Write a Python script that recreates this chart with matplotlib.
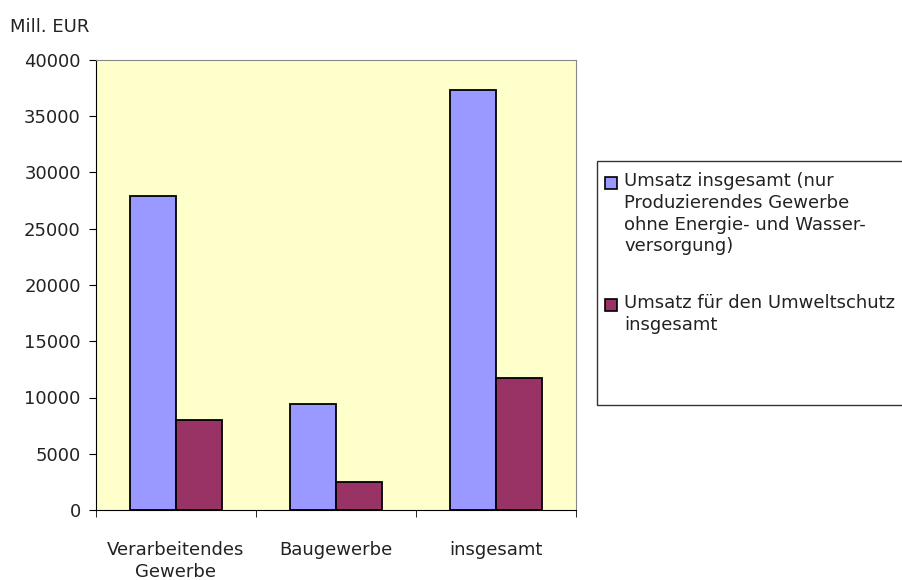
import matplotlib.pyplot as plt
import numpy as np
from matplotlib.patches import Rectangle

plt.rcParams['font.family'] = ['DejaVu Sans']

# data (Mill. EUR)
kategorien = ["Verarbeitendes\nGewerbe", "Baugewerbe", "insgesamt"]
umsatz_gesamt = [27900, 9400, 37300]
umsatz_umwelt = [8000, 2500, 11700]
serien_namen = ["Umsatz insgesamt (nur\nProduzierendes Gewerbe\nohne Energie- und Wasser-\nversorgung)",
                "Umsatz für den Umweltschutz\ninsgesamt"]
farben = ['#9999FF', '#993366']

fs = 13
fig = plt.figure(figsize=(9.03, 5.80), dpi=100)
ax = fig.add_axes([96/903, 1-510/580, 480/903, 450/580])
ax.set_facecolor('#FFFFCC')

x = np.arange(len(kategorien))
w = 1/3.5
ax.bar(x - w/2, umsatz_gesamt, w, color=farben[0], edgecolor='black', linewidth=1.3)
ax.bar(x + w/2, umsatz_umwelt, w, color=farben[1], edgecolor='black', linewidth=1.3)

ax.set_xlim(-0.5, len(kategorien) - 0.5)
ax.set_ylim(0, 40000)
ax.set_yticks(np.arange(0, 40001, 5000))
ax.set_xticks(x)
ax.set_xticklabels(kategorien, fontsize=fs, color='#222222', linespacing=1.3)
ax.tick_params(axis='x', length=0, pad=22)
ax.set_xticks(np.arange(-0.5, len(kategorien), 1), minor=True)
ax.tick_params(axis='x', which='minor', length=5, direction='out')
ax.tick_params(axis='y', labelsize=fs, labelcolor='#222222', length=5, direction='out', pad=6)
for s in ['top', 'right']:
    ax.spines[s].set_color('#888888')
for s in ['left', 'bottom']:
    ax.spines[s].set_color('black')

fig.text(10/903, 1-27/580, "Mill. EUR", fontsize=fs, color='#222222', va='center', ha='left')

# legend box like the original (extends past the right edge)
fig.patches.append(Rectangle((597/903, 1-405/580), 320/903, 244/580, transform=fig.transFigure,
                             facecolor='white', edgecolor='#333333', linewidth=1))
zeilen_y = [183, 305]
for name, farbe, yy in zip(serien_namen, farben, zeilen_y):
    fig.patches.append(Rectangle((605/903, 1-(yy+6)/580), 12/903, 12/580, transform=fig.transFigure,
                                 facecolor=farbe, edgecolor='black', linewidth=1.2))
    fig.text(624/903, 1-(yy-11)/580, name, fontsize=fs, color='#222222', va='top', ha='left',
             linespacing=1.27)

fig.savefig('out.png', dpi=100)
